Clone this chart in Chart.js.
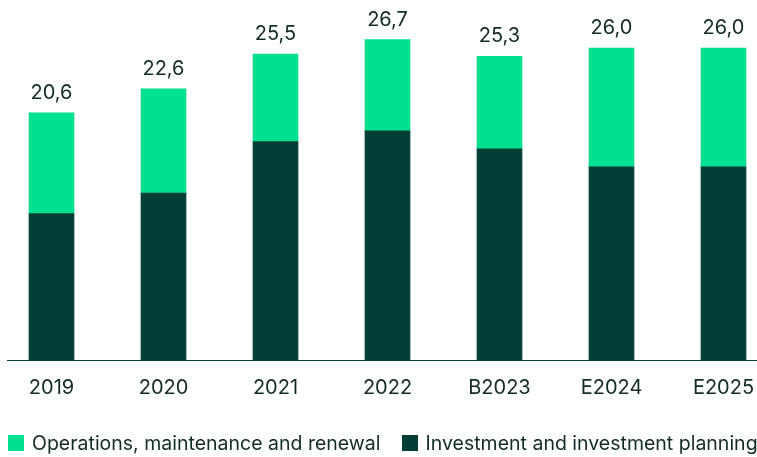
<!DOCTYPE html>
<html>
<head>
<meta charset="utf-8">
<script src="https://cdn.jsdelivr.net/npm/chart.js@4.4.0/dist/chart.umd.min.js"></script>
<style>
  body { margin: 0; background: #fff; }
  .wrap { position: relative; width: 757px; height: 457px; overflow: hidden; }
  .legend {
    position: absolute; left: 8px; top: 431px;
    display: flex; white-space: nowrap;
    font: 19.5px Inter, sans-serif; color: #132b26;
  }
  .legend span { display: flex; align-items: center; margin-right: 21px; }
  .legend i { display: inline-block; width: 16px; height: 16px; margin-right: 8px; }
</style>
</head>
<body>
<div class="wrap">
  <canvas id="myChart" width="757" height="457"></canvas>
  <div class="legend"></div>
</div>
<script>
// years on the x axis
const years = ['2019', '2020', '2021', '2022', 'B2023', 'E2024', 'E2025'];
// investment and investment planning (bottom segment)
const investment = [12.2, 13.9, 18.2, 19.1, 17.6, 16.1, 16.1];
// operations, maintenance and renewal (top segment)
const operations = [8.4, 8.7, 7.3, 7.6, 7.7, 9.9, 9.9];

const darkGreen = '#023f36';
const lightGreen = '#00e091';
const textColor = '#132b26';

Chart.defaults.font.family = 'Inter';
Chart.defaults.font.size = 20;
Chart.defaults.color = textColor;

// totals above each stack
const totalLabels = {
  id: 'totalLabels',
  afterDatasetsDraw(chart) {
    const ctx = chart.ctx;
    const top = chart.getDatasetMeta(chart.data.datasets.length - 1);
    ctx.save();
    ctx.font = '20px Inter';
    ctx.fillStyle = textColor;
    ctx.textAlign = 'center';
    ctx.textBaseline = 'alphabetic';
    years.forEach((y, i) => {
      const sum = chart.data.datasets.reduce((s, ds) => s + ds.data[i], 0);
      const bar = top.data[i];
      ctx.fillText(sum.toFixed(1).replace('.', ','), bar.x, bar.y - 14);
    });
    ctx.restore();
  },
};

// baseline runs across the whole width
const baseline = {
  id: 'baseline',
  afterDatasetsDraw(chart) {
    const ctx = chart.ctx;
    const y0 = Math.round(chart.scales.y.getPixelForValue(0)) + 0.5;
    ctx.save();
    ctx.strokeStyle = darkGreen;
    ctx.lineWidth = 1;
    ctx.beginPath();
    ctx.moveTo(7, y0);
    ctx.lineTo(chart.width, y0);
    ctx.stroke();
    ctx.restore();
  },
};

const chart = new Chart(document.getElementById('myChart'), {
  type: 'bar',
  data: {
    labels: years,
    datasets: [
      {
        label: 'Investment and investment planning',
        data: investment,
        backgroundColor: darkGreen,
        barThickness: 45,
        clip: false,
      },
      {
        label: 'Operations, maintenance and renewal',
        data: operations,
        backgroundColor: lightGreen,
        barThickness: 45,
        clip: false,
      },
    ],
  },
  options: {
    responsive: false,
    animation: false,
    layout: {
      padding: { left: 51.5, right: 33.5, top: 0, bottom: 41 },
    },
    plugins: {
      legend: { display: false },
      tooltip: { enabled: false },
    },
    scales: {
      x: {
        stacked: true,
        offset: false,
        grid: { display: false, drawTicks: false },
        border: { display: false },
        ticks: { padding: 16, maxRotation: 0, autoSkip: false, color: textColor },
        // keep the outer labels from pushing the plot area in
        afterFit: (scale) => {
          scale.paddingLeft = 0;
          scale.paddingRight = 0;
        },
      },
      y: {
        stacked: true,
        display: false,
        min: 0,
        max: 30,
      },
    },
  },
  plugins: [totalLabels, baseline],
});

// html legend, operations first
const legend = document.querySelector('.legend');
[...chart.data.datasets].reverse().forEach((ds) => {
  const item = document.createElement('span');
  item.innerHTML = `<i style="background:${ds.backgroundColor}"></i>${ds.label}`;
  legend.appendChild(item);
});
</script>
</body>
</html>
